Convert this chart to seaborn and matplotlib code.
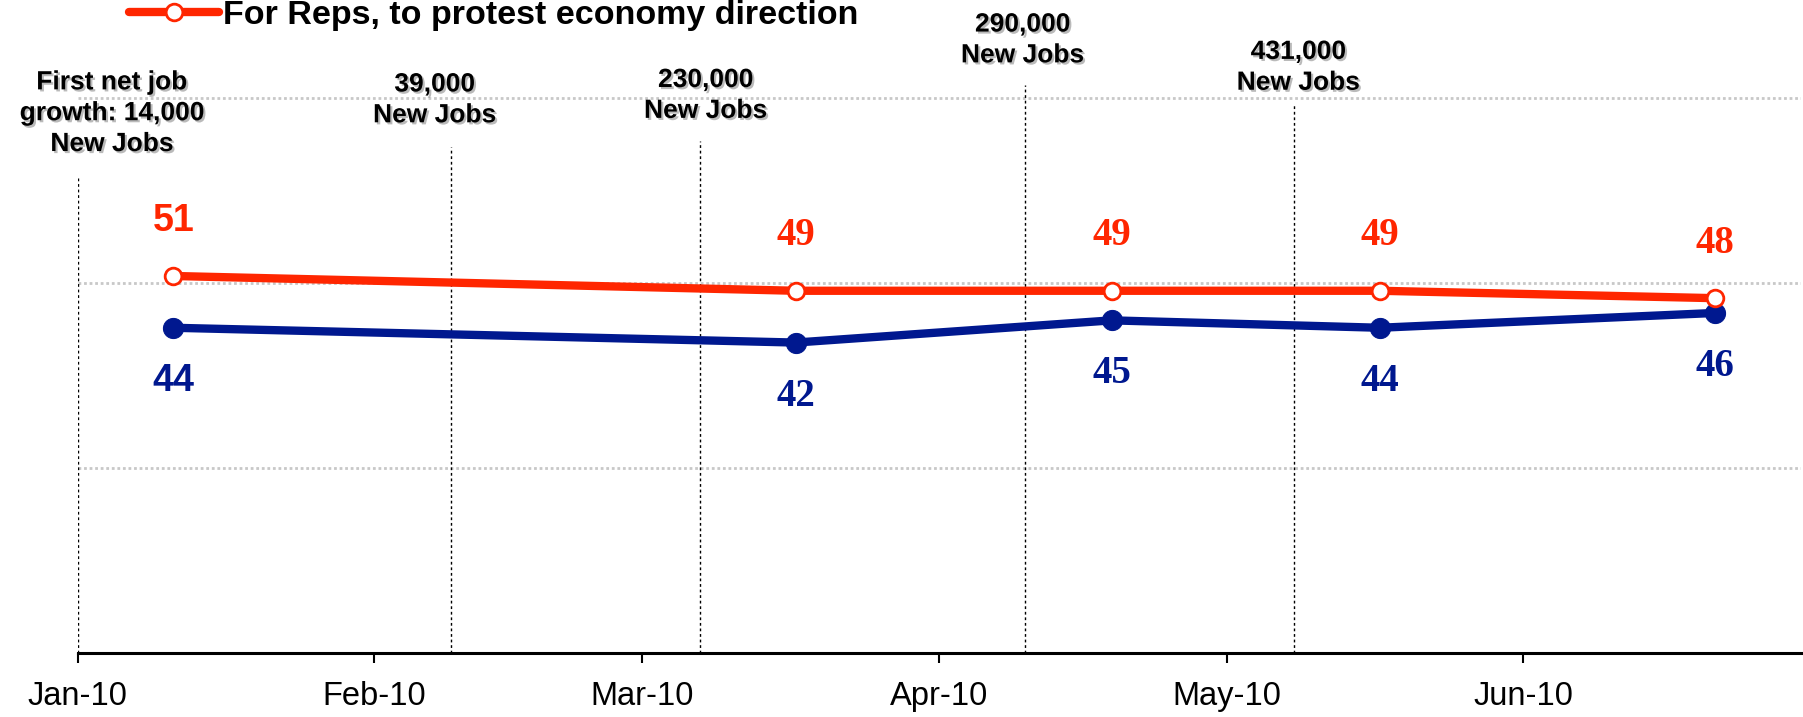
import pandas as pd
import matplotlib
matplotlib.use("Agg")
import matplotlib.pyplot as plt
import matplotlib.dates as mdates
import matplotlib.patheffects as pe
import seaborn as sns

# Poll results
poll_dates = pd.to_datetime(["2010-01-11", "2010-03-17", "2010-04-19", "2010-05-17", "2010-06-21"])
reps_protest = [51, 49, 49, 49, 48]
other_share = [44, 42, 45, 44, 46]
legend_label = "For Reps, to protest economy direction"

# Monthly jobs reports
report_dates = pd.to_datetime(["2010-01-01", "2010-02-09", "2010-03-07", "2010-04-10", "2010-05-08"])
report_labels = [
    "First net job\ngrowth: 14,000\nNew Jobs",
    "39,000\nNew Jobs",
    "230,000\nNew Jobs",
    "290,000\nNew Jobs",
    "431,000\nNew Jobs",
]

# layout for the report markers (line tops, text centres)
line_tops = [64.2, 68.4, 69.2, 76.8, 74.1]
text_shift_days = [3.6, -1.7, 0.6, -0.3, 0.5]
text_y = [73.0, 74.8, 75.4, 82.9, 79.2]
# first value labels are sans, later ones serif
label_fonts = ["Liberation Sans"] + ["Liberation Serif"] * 4
label_sizes = [27, 28, 28, 28, 28]

RED = "#FF2600"
BLUE = "#00188F"

sns.set_style("white")
plt.rcParams["font.family"] = ["Liberation Sans", "DejaVu Sans"]
plt.rcParams["text.color"] = "black"

W, H = 1803, 717
fig = plt.figure(figsize=(W / 100, H / 100), dpi=100)
ax = fig.add_axes([77.5 / W, (H - 653.3) / H, (1801 - 77.5) / W, 653.3 / H])

# dotted event lines
ax.vlines(report_dates, 0, line_tops, colors="black", linestyles=(0, (2, 2)), linewidth=1.0, zorder=1)

sns.lineplot(x=poll_dates, y=other_share, ax=ax, color=BLUE, linewidth=6,
             marker="o", markersize=14.5, markerfacecolor=BLUE, markeredgecolor=BLUE, zorder=3)
sns.lineplot(x=poll_dates, y=reps_protest, ax=ax, color=RED, linewidth=6,
             marker="o", markersize=12, markerfacecolor="white", markeredgecolor=RED,
             markeredgewidth=2.0, zorder=4)
red_line = ax.lines[-1]

# value labels
for d, v, fam, fs in zip(poll_dates, reps_protest, label_fonts, label_sizes):
    ax.annotate(str(v), (d, v), xytext=(0, 39.5), textcoords="offset points",
                ha="center", va="center", color=RED, fontsize=fs, fontweight="bold",
                fontfamily=[fam])
for d, v, fam, fs in zip(poll_dates, other_share, label_fonts, label_sizes):
    ax.annotate(str(v), (d, v), xytext=(0, -38.5), textcoords="offset points",
                ha="center", va="center", color=BLUE, fontsize=fs, fontweight="bold",
                fontfamily=[fam])

# job report notes
shadow = [pe.SimplePatchShadow(offset=(1.5, -1.5), shadow_rgbFace=(0.4, 0.4, 0.4), alpha=0.45), pe.Normal()]
for d, lab, sh, ty in zip(report_dates, report_labels, text_shift_days, text_y):
    ax.text(d + pd.Timedelta(days=sh), ty, lab, ha="center", va="center", fontsize=19,
            fontweight="bold", color="black", linespacing=1.36, path_effects=shadow, zorder=5)

ax.set_xlim(pd.Timestamp("2010-01-01"), pd.Timestamp("2010-06-30"))
ax.set_ylim(0, 88.3)
ax.set_yticks([25, 50, 75])
ax.yaxis.grid(True, color="#C8C8C8", linestyle=(0, (1, 1)), linewidth=2)
ax.xaxis.grid(False)
ax.tick_params(axis="y", left=False, labelleft=False)

ax.xaxis.set_major_locator(mdates.MonthLocator())
ax.xaxis.set_major_formatter(mdates.DateFormatter("%b-%y"))
ax.tick_params(axis="x", direction="out", length=7, width=1.5, labelsize=23.5, pad=13,
               bottom=True, colors="black")
ax.set_xlabel("")
ax.set_ylabel("")

for s in ["left", "top", "right"]:
    ax.spines[s].set_visible(False)
ax.spines["bottom"].set_linewidth(2.2)
ax.spines["bottom"].set_color("black")

leg = ax.legend(handles=[red_line], labels=[legend_label], loc="upper left",
                bbox_to_anchor=(129 / W, 1.0), bbox_transform=fig.transFigure,
                frameon=False, prop={"weight": "bold", "size": 24.5},
                handlelength=2.65, handletextpad=0.12, borderpad=0, borderaxespad=0)
for t in leg.get_texts():
    t.set_color("black")

fig.savefig("out.png", dpi=100)
